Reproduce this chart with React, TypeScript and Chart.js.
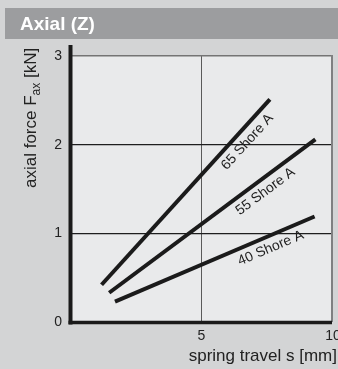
import React, { useEffect, useRef } from "react";
import { Chart, registerables } from "chart.js";

Chart.register(...registerables);

const seriesNames = ["65 Shore A", "55 Shore A", "40 Shore A"];
const travel65 = [1.2, 7.6];
const force65 = [0.42, 2.51];
const travel55 = [1.49, 9.33];
const force55 = [0.33, 2.06];
const travel40 = [1.71, 9.3];
const force40 = [0.23, 1.19];
const xTicks = [5, 10];
const yTicks = [0, 1, 2, 3];
const labelT = [0.814, 0.723, 0.757];

const FONT = "'Liberation Sans', Arial, Helvetica, sans-serif";

const bgPlugin = {
  id: "bgPlugin",
  beforeDraw(chart: any) {
    const { ctx, chartArea: a } = chart;
    ctx.save();
    ctx.fillStyle = "#d3d4d5";
    ctx.fillRect(0, 0, chart.width, chart.height);
    ctx.fillStyle = "#9c9d9f";
    ctx.fillRect(5, 8, chart.width - 5, 31);
    ctx.fillStyle = "#ffffff";
    ctx.font = "bold 19px " + FONT;
    ctx.textBaseline = "alphabetic";
    ctx.textAlign = "left";
    ctx.fillText("Axial (Z)", 20, 29.5);
    ctx.fillStyle = "#e9eaeb";
    ctx.fillRect(a.left, a.top, a.right - a.left, a.bottom - a.top);
    ctx.restore();
  },
  beforeDatasetsDraw(chart: any) {
    const { ctx, chartArea: a } = chart;
    ctx.save();
    ctx.strokeStyle = "#7f8081";
    ctx.lineWidth = 2;
    ctx.beginPath();
    ctx.moveTo(a.right - 1, a.top - 1);
    ctx.lineTo(a.right - 1, a.bottom);
    ctx.stroke();
    ctx.strokeStyle = "#1a1a1a";
    ctx.lineWidth = 4;
    ctx.beginPath();
    ctx.moveTo(a.left + 0.5, a.top - 11);
    ctx.lineTo(a.left + 0.5, a.bottom + 2.5);
    ctx.stroke();
    ctx.lineWidth = 3.5;
    ctx.beginPath();
    ctx.moveTo(a.left - 1.5, a.bottom + 0.5);
    ctx.lineTo(a.right - 1, a.bottom + 0.5);
    ctx.stroke();
    ctx.restore();
  },
  afterDatasetsDraw(chart: any) {
    const { ctx } = chart;
    const xs = chart.scales.x;
    const ys = chart.scales.y;
    ctx.save();
    ctx.fillStyle = "#1f1f1f";
    ctx.font = "14px " + FONT;
    ctx.textAlign = "center";
    ctx.textBaseline = "middle";
    chart.data.datasets.forEach((ds: any, i: number) => {
      const p0 = ds.data[0];
      const p1 = ds.data[ds.data.length - 1];
      const x0 = xs.getPixelForValue(p0.x);
      const y0 = ys.getPixelForValue(p0.y);
      const x1 = xs.getPixelForValue(p1.x);
      const y1 = ys.getPixelForValue(p1.y);
      const ang = Math.atan2(y1 - y0, x1 - x0);
      const t = labelT[i];
      const cx = x0 + (x1 - x0) * t;
      const cy = y0 + (y1 - y0) * t;
      const off = 12;
      const px = cx - Math.sin(ang) * off;
      const py = cy + Math.cos(ang) * off;
      ctx.save();
      ctx.translate(px, py);
      ctx.rotate(ang);
      ctx.fillText(ds.label, 0, 0);
      ctx.restore();
    });
    ctx.fillStyle = "#222222";
    ctx.font = "17px " + FONT;
    ctx.textAlign = "right";
    ctx.textBaseline = "alphabetic";
    ctx.fillText("spring travel s [mm]", 337, 360.5);

    ctx.save();
    ctx.translate(36, 188);
    ctx.rotate(-Math.PI / 2);
    ctx.textAlign = "left";
    let x = 0;
    const parts: [string, number, number][] = [
      ["axial force F", 17, 0],
      ["ax", 12, 4],
      [" [kN]", 17, 0],
    ];
    for (const [txt, size, dy] of parts) {
      ctx.font = size + "px " + FONT;
      ctx.fillText(txt, x, dy);
      x += ctx.measureText(txt).width;
    }
    ctx.restore();
    ctx.restore();
  },
};

export default function App() {
  const ref = useRef<HTMLCanvasElement>(null);
  useEffect(() => {
    if (!ref.current) return;
    const mk = (xs: number[], ys: number[]) => xs.map((x, i) => ({ x, y: ys[i] }));
    const allData = [mk(travel65, force65), mk(travel55, force55), mk(travel40, force40)];
    const chart = new Chart(ref.current, {
      type: "scatter",
      data: {
        datasets: seriesNames.map((name, i) => ({
          label: name,
          data: allData[i],
          showLine: true,
          borderColor: "#1b1b1b",
          borderWidth: 4,
          borderCapStyle: "butt",
          pointRadius: 0,
          fill: false,
        })),
      },
      options: {
        responsive: false,
        animation: false,
        layout: { padding: { top: 56, right: 5, left: 0, bottom: 0 } },
        plugins: { legend: { display: false }, tooltip: { enabled: false } },
        scales: {
          x: {
            type: "linear",
            min: 0,
            max: 10,
            afterBuildTicks: (s: any) => {
              s.ticks = xTicks.map((v) => ({ value: v }));
            },
            afterFit: (s: any) => {
              s.height = 47;
              s.paddingLeft = 0;
              s.paddingRight = 0;
            },
            ticks: {
              font: { size: 14, family: FONT },
              color: "#222",
              padding: 6,
              maxRotation: 0,
              autoSkip: false,
            },
            grid: {
              drawTicks: false,
              lineWidth: 1,
              color: (c: any) => (c.tick && c.tick.value === 5 ? "#5a5a5a" : "rgba(0,0,0,0)"),
            },
            border: { display: false },
          },
          y: {
            type: "linear",
            min: 0,
            max: 3,
            afterBuildTicks: (s: any) => {
              s.ticks = yTicks.map((v) => ({ value: v }));
            },
            afterFit: (s: any) => {
              s.width = 70;
            },
            ticks: {
              font: { size: 14, family: FONT },
              color: "#222",
              padding: 8,
              autoSkip: false,
            },
            grid: {
              drawTicks: false,
              lineWidth: (c: any) => (c.tick && c.tick.value === 3 ? 1.5 : 1.2),
              color: (c: any) => {
                const v = c.tick && c.tick.value;
                if (v === 1 || v === 2) return "#1e1e1e";
                if (v === 3) return "#747474";
                return "rgba(0,0,0,0)";
              },
            },
            border: { display: false },
          },
        },
      } as any,
      plugins: [bgPlugin],
    });
    return () => chart.destroy();
  }, []);
  return (
    <div style={{ position: "fixed", left: 0, top: 0, width: 338, height: 369 }}>
      <canvas ref={ref} width={338} height={369} style={{ width: 338, height: 369, display: "block" }} />
    </div>
  );
}
